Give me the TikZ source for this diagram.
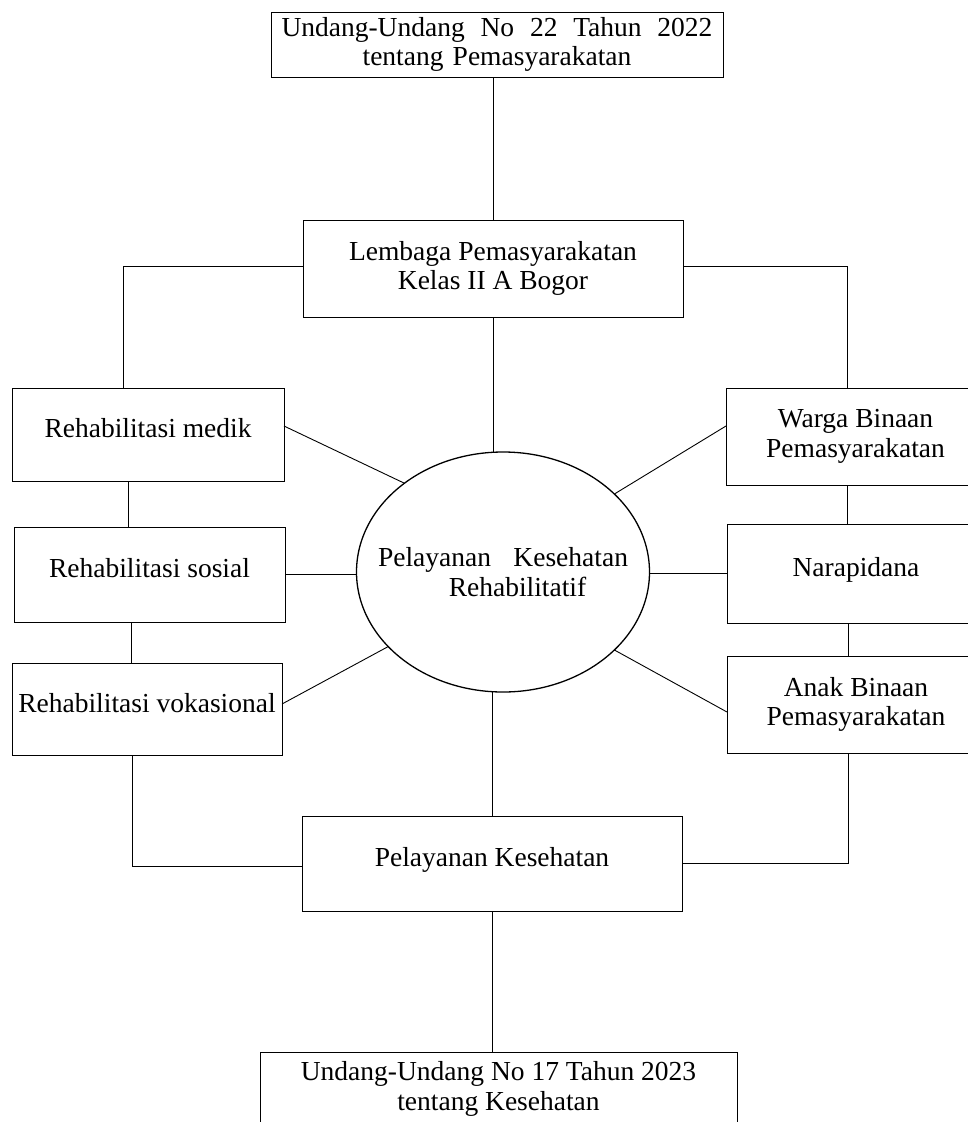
\documentclass[tikz,border=0pt]{standalone}
\usepackage{fontspec}
\setmainfont{Liberation Serif}
\usetikzlibrary{shapes.geometric, positioning}

\begin{document}
\begin{tikzpicture}
[x=1pt, y=-1pt,
  box/.style={draw, line width=0.9pt, inner sep=0pt, outer sep=0pt, align=center,
    font=\fontsize{27.5}{29.5}\selectfont},
  onebox/.style={box, text height=20pt, text depth=14pt},
  hub/.style={box, ellipse, line width=1.3pt, text width=250pt, inner xsep=-60pt, inner ysep=-12pt},
  link/.style={line width=0.9pt}]

\useasboundingbox (0,0) rectangle (968,1122);

% laws, institution and service
\node[box, minimum width=452pt, minimum height=65pt, text width=431pt] (uu22) at (497,44.5)
  {Undang-Undang\hfill No\hfill 22\hfill Tahun\hfill 2022\\ tentang Pemasyarakatan\hspace*{30pt}};
\node[box, minimum width=380pt, minimum height=97pt] (lembaga) at (493,268.5)
  {Lembaga Pemasyarakatan\\Kelas II A Bogor};
\node[hub, minimum width=293pt, minimum height=240pt] (rehab) at (503,572)
  {Pelayanan\hfill Kesehatan\\\hspace*{29pt}Rehabilitatif};
\node[onebox, minimum width=380pt, minimum height=95pt] (yankes) at (492,863.5) {Pelayanan Kesehatan};
\node[box, minimum width=477pt, minimum height=74pt] (uu17) at (498.5,1089)
  {Undang-Undang No 17 Tahun 2023\\tentang Kesehatan};

% left column
\node[onebox, minimum width=272pt, minimum height=93pt] (medik) at (148,434.5) {Rehabilitasi medik};
\node[onebox, minimum width=271pt, minimum height=95pt] (sosial) at (149.5,574.5) {Rehabilitasi sosial};
\node[onebox, minimum width=270pt, minimum height=92pt] (vokasional) at (147,709) {Rehabilitasi vokasional};

% right column
\node[box, minimum width=259pt, minimum height=97pt] (warga) at (855.5,436.5) {Warga Binaan\\Pemasyarakatan};
\node[onebox, minimum width=258pt, minimum height=99pt] (napi) at (856,573.5) {Narapidana};
\node[box, minimum width=258pt, minimum height=97pt] (anak) at (856,704.5) {Anak Binaan\\Pemasyarakatan};

% spine
\draw[link] (lembaga.north) -- (lembaga.north |- uu22.south);
\draw[link] (lembaga.south) -- (lembaga.south |- rehab.north);
\draw[link] (yankes.north) -- (yankes.north |- rehab.south);
\draw[link] (yankes.south) -- (yankes.south |- uu17.north);

% frame lines
\draw[link] ([yshift=2.5pt]lembaga.west) -| ([xshift=-25pt]medik.north);
\draw[link] ([yshift=2.5pt]lembaga.east) -| ([xshift=-8.5pt]warga.north);
\draw[link] ([xshift=-20pt]medik.south) -- ([xshift=-20pt]medik.south |- sosial.north);
\draw[link] ([xshift=-18.5pt]sosial.south) -- ([xshift=-18.5pt]sosial.south |- vokasional.north);
\draw[link] ([xshift=-15pt]vokasional.south) |- ([yshift=-2.5pt]yankes.west);
\draw[link] ([xshift=-8.5pt]warga.south) -- ([xshift=-8.5pt]warga.south |- napi.north);
\draw[link] ([xshift=-8pt]napi.south) -- ([xshift=-8pt]napi.south |- anak.north);
\draw[link] ([xshift=-8pt]anak.south) |- (yankes.east);

% spokes
\draw[link] ([yshift=8.5pt]medik.east) -- (rehab.138);
\draw[link] (sosial.east) -- (sosial.east -| rehab.west);
\draw[link] ([yshift=5pt]vokasional.east) -- (rehab.213);
\draw[link] ([yshift=10.5pt]warga.west) -- (rehab.35);
\draw[link] (napi.west) -- (napi.west -| rehab.east);
\draw[link] ([yshift=-7.5pt]anak.west) -- (rehab.-35);

\end{tikzpicture}
\end{document}
